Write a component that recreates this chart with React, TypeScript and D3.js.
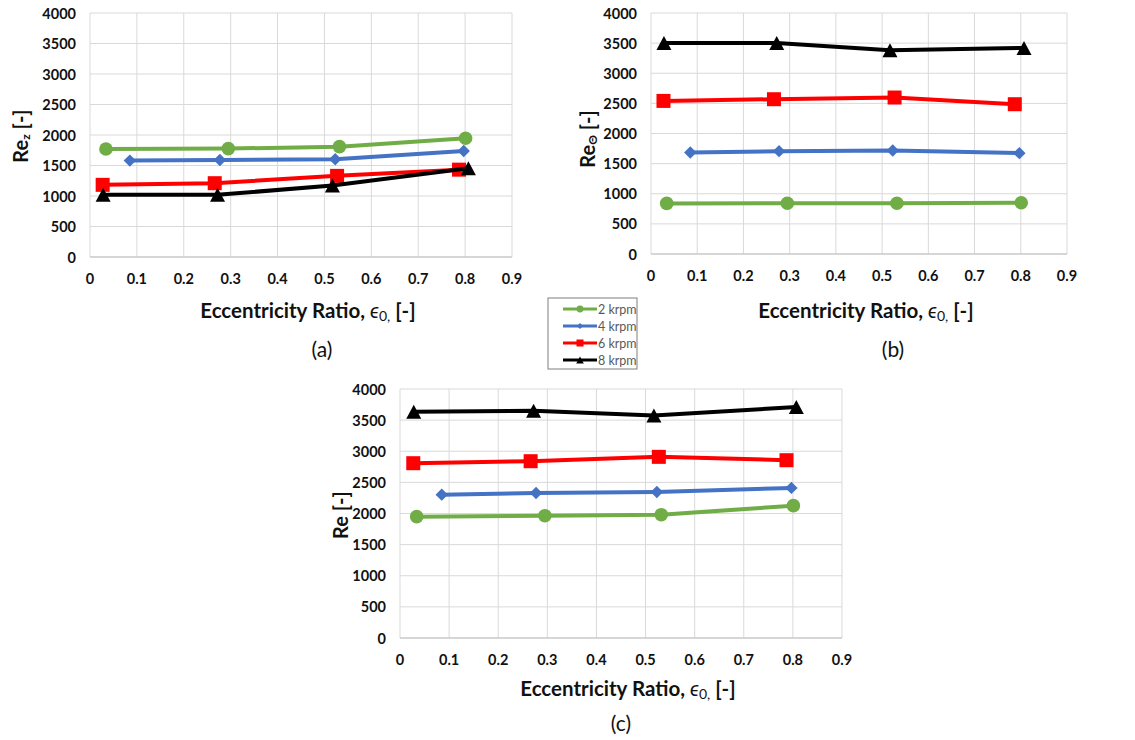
import React from "react";
import * as d3 from "d3";

const SERIES_NAMES = ["2 krpm", "4 krpm", "6 krpm", "8 krpm"];
const SERIES_COLORS = ["#70AD47", "#4472C4", "#FF0000", "#000000"];
const SERIES_MARKERS = ["circle", "diamond", "square", "triangle"];

const X_GREEN = [0.034, 0.295, 0.532, 0.801];
const X_BLUE = [0.085, 0.277, 0.523, 0.797];
const X_RED = [0.027, 0.266, 0.527, 0.787];
const X_BLACK = [0.028, 0.272, 0.517, 0.807];

// Panel (a): Re_z
const REZ_GREEN = [1771, 1777, 1809, 1946];
const REZ_BLUE = [1580, 1591, 1602, 1738];
const REZ_RED = [1183, 1210, 1330, 1432];
const REZ_BLACK = [1019, 1019, 1172, 1455];

// Panel (b): Re_theta
const RET_GREEN = [840, 842, 842, 851];
const RET_BLUE = [1685, 1707, 1718, 1674];
const RET_RED = [2541, 2569, 2597, 2486];
const RET_BLACK = [3503, 3503, 3381, 3420];

// Panel (c): Re
const RE_GREEN = [1949, 1965, 1981, 2126];
const RE_BLUE = [2303, 2330, 2346, 2411];
const RE_RED = [2808, 2840, 2910, 2856];
const RE_BLACK = [3635, 3651, 3576, 3710];

const X_TICKS = [0, 0.1, 0.2, 0.3, 0.4, 0.5, 0.6, 0.7, 0.8, 0.9];
const Y_TICKS = [0, 500, 1000, 1500, 2000, 2500, 3000, 3500, 4000];

const FONT = "Lato, 'Open Sans', sans-serif";

function Marker({ kind, x, y, color, s = 1 }: { kind: string; x: number; y: number; color: string; s?: number }) {
  if (kind === "circle") return <circle cx={x} cy={y} r={6.8 * s} fill={color} />;
  if (kind === "square") return <rect x={x - 7 * s} y={y - 7 * s} width={14 * s} height={14 * s} fill={color} />;
  if (kind === "diamond") {
    const r = 6.2 * s;
    return <path d={`M${x},${y - r}L${x + r},${y}L${x},${y + r}L${x - r},${y}Z`} fill={color} />;
  }
  const w = 7.5 * s, h = 7 * s;
  return <path d={`M${x},${y - h}L${x + w},${y + h}L${x - w},${y + h}Z`} fill={color} />;
}

type PanelProps = {
  left: number; right: number; top: number; bottom: number;
  ys: number[][];
  yTitleX: number; yTitleY: number; yTitle: React.ReactNode;
  xTitleY: number; letter: string; letterX: number; letterY: number;
};

function Panel(p: PanelProps) {
  const x = d3.scaleLinear().domain([0, 0.9]).range([p.left, p.right]);
  const y = d3.scaleLinear().domain([0, 4000]).range([p.bottom, p.top]);
  const xs = [X_GREEN, X_BLUE, X_RED, X_BLACK];
  const line = d3.line<[number, number]>().x(d => x(d[0])).y(d => y(d[1]));
  const cx = (p.left + p.right) / 2;
  return (
    <g>
      {X_TICKS.map(t => (
        <line key={"vx" + t} x1={x(t)} x2={x(t)} y1={p.top} y2={p.bottom} stroke="#d9d9d9" strokeWidth={1} />
      ))}
      {Y_TICKS.map(t => (
        <line key={"hy" + t} x1={p.left} x2={p.right} y1={y(t)} y2={y(t)} stroke={t === 0 ? "#c8c8c8" : "#d9d9d9"} strokeWidth={t === 0 ? 1.5 : 1} />
      ))}
      {Y_TICKS.map(t => (
        <text key={"yl" + t} x={p.left - 14} y={y(t)} textAnchor="end" dominantBaseline="central" fontSize={14.5} fontWeight="bold" fill="#111" fontFamily={FONT}>{t}</text>
      ))}
      {X_TICKS.map(t => (
        <text key={"xl" + t} x={x(t)} y={p.bottom + 21} textAnchor="middle" dominantBaseline="central" fontSize={14.5} fontWeight="bold" fill="#111" fontFamily={FONT}>{t === 0 ? "0" : t.toFixed(1)}</text>
      ))}
      {p.ys.map((vals, i) => {
        const pts = vals.map((v, j) => [xs[i][j], v] as [number, number]);
        return (
          <g key={"s" + i}>
            <path d={line(pts) || ""} fill="none" stroke={SERIES_COLORS[i]} strokeWidth={4} strokeLinejoin="round" />
            {pts.map((d, j) => (
              <Marker key={j} kind={SERIES_MARKERS[i]} x={x(d[0])} y={y(d[1])} color={SERIES_COLORS[i]} />
            ))}
          </g>
        );
      })}
      <text x={p.yTitleX} y={p.yTitleY} transform={`rotate(-90 ${p.yTitleX} ${p.yTitleY})`} textAnchor="middle" dominantBaseline="central" fontSize={20} fontWeight="bold" fill="#111" fontFamily={FONT}>{p.yTitle}</text>
      <text x={cx + 7} y={p.xTitleY} textAnchor="middle" dominantBaseline="central" fontSize={20.5} fontWeight="bold" fill="#111" fontFamily={FONT}>
        Eccentricity Ratio, <tspan fontWeight="normal" fontStyle="italic">ϵ</tspan><tspan fontSize={14} dy={5} fontWeight="normal">0,</tspan><tspan dy={-5}> [-]</tspan>
      </text>
      <text x={p.letterX} y={p.letterY} textAnchor="middle" dominantBaseline="central" fontSize={21} fill="#111" fontFamily={FONT}>{p.letter}</text>
    </g>
  );
}

function Legend({ x0, y0 }: { x0: number; y0: number }) {
  return (
    <g>
      <rect x={x0} y={y0} width={89} height={71} fill="#fff" stroke="#7f7f7f" strokeWidth={1} />
      {SERIES_NAMES.map((n, i) => {
        const yy = y0 + 11 + i * 17;
        return (
          <g key={n}>
            <line x1={x0 + 15} x2={x0 + 49} y1={yy} y2={yy} stroke={SERIES_COLORS[i]} strokeWidth={3} />
            <Marker kind={SERIES_MARKERS[i]} x={x0 + 32} y={yy} color={SERIES_COLORS[i]} s={0.5} />
            <text x={x0 + 50} y={yy} dominantBaseline="central" fontSize={12.5} fill="#595959" fontFamily={FONT}>{n}</text>
          </g>
        );
      })}
    </g>
  );
}

export default function App() {
  return (
    <svg width={1135} height={740} style={{ position: "absolute", left: 0, top: 0, background: "#fff" }}>
      <rect x={0} y={0} width={1135} height={740} fill="#fff" />
      <Panel left={90} right={512} top={13} bottom={257}
        ys={[REZ_GREEN, REZ_BLUE, REZ_RED, REZ_BLACK]}
        yTitleX={20} yTitleY={136}
        yTitle={<>Re<tspan fontSize={12} dy={5}>z</tspan><tspan dy={-5}> [-]</tspan></>}
        xTitleY={310} letter="(a)" letterX={322} letterY={348} />
      <Panel left={651} right={1067} top={13} bottom={254}
        ys={[RET_GREEN, RET_BLUE, RET_RED, RET_BLACK]}
        yTitleX={587} yTitleY={139}
        yTitle={<>Re<tspan fontSize={12} dy={5}>Θ</tspan><tspan dy={-5}> [-]</tspan></>}
        xTitleY={310} letter="(b)" letterX={893} letterY={348} />
      <Panel left={400} right={842} top={389} bottom={638}
        ys={[RE_GREEN, RE_BLUE, RE_RED, RE_BLACK]}
        yTitleX={340} yTitleY={515}
        yTitle={<>Re [-]</>}
        xTitleY={688} letter="(c)" letterX={621} letterY={722} />
      <Legend x0={548} y0={298} />
    </svg>
  );
}
